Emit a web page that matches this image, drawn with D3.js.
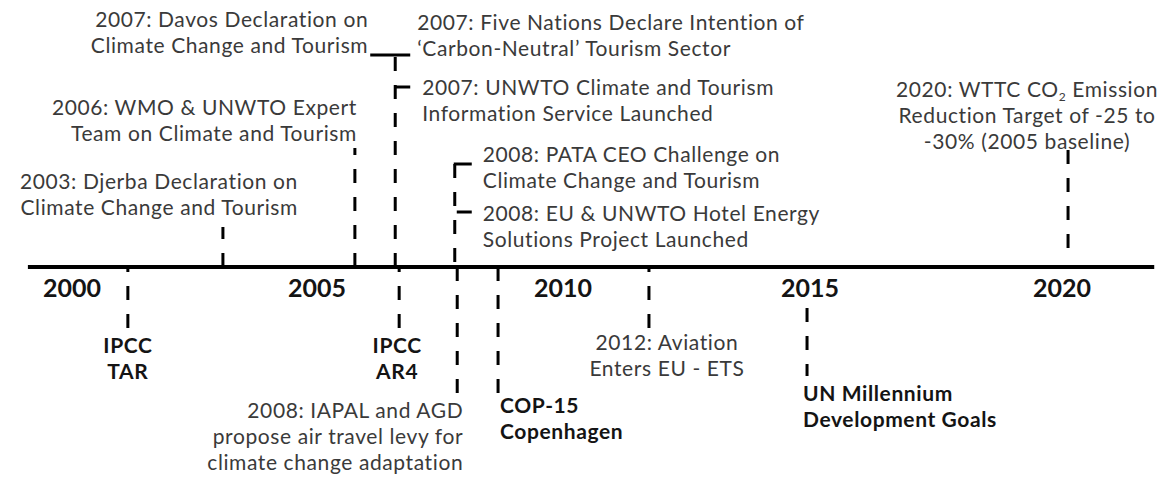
<!DOCTYPE html>
<meta charset="utf-8">
<style>
body { margin: 0; background: #fff; }
svg text { font-family: Lato, "Open Sans", sans-serif; }
.lbl { font-size: 21px; letter-spacing: 0.6px; fill: #3a3a3a; }
.lbl.bold { font-weight: bold; fill: #141414; }
.year { font-size: 25px; font-weight: bold; fill: #141414; }
.axis-line { stroke: #000; stroke-width: 4; }
.link { stroke: #000; stroke-width: 3; stroke-dasharray: 14,14; fill: none; }
.bar { stroke: #000; stroke-width: 3; }
</style>
<svg width="1168" height="479"></svg>
<script src="https://d3js.org/d3.v7.min.js"></script>
<script>

// year ticks under the axis
var tickYears = [2000, 2005, 2010, 2015, 2020];
var tickLabels = ["2000", "2005", "2010", "2015", "2020"];

// where each event sits on the time axis
var eventYears = [2001.14, 2003.08, 2005.77, 2006.59, 2006.59, 2006.59, 2006.67,
                  2007.8, 2007.8, 2007.85, 2008.68, 2011.74, 2014.94, 2020.12];

var eventText = [
  ["IPCC", "TAR"],
  ["2003: Djerba Declaration on", "Climate Change and Tourism"],
  ["2006: WMO & UNWTO Expert", "Team on Climate and Tourism"],
  ["2007: Davos Declaration on", "Climate Change and Tourism"],
  ["2007: Five Nations Declare Intention of", "\u2018Carbon-Neutral\u2019 Tourism Sector"],
  ["2007: UNWTO Climate and Tourism", "Information Service Launched"],
  ["IPCC", "AR4"],
  ["2008: PATA CEO Challenge on", "Climate Change and Tourism"],
  ["2008: EU & UNWTO Hotel Energy", "Solutions Project Launched"],
  ["2008: IAPAL and AGD", "propose air travel levy for", "climate change adaptation"],
  ["COP-15", "Copenhagen"],
  ["2012: Aviation", "Enters EU - ETS"],
  ["UN Millennium", "Development Goals"],
  ["2020: WTTC CO_2 Emission", "Reduction Target of -25 to", "-30% (2005 baseline)"]
];

// layout for each event: label offset / baseline, connector line ends, little hooks
var layout = [
  {dx: 0,   y: 353, anchor: "middle", bold: true, line: [328, 267]},
  {dx: 75,  y: 189, anchor: "end",    line: [267, 227]},
  {dx: 2,   y: 115, anchor: "end",    line: [267, 148]},
  {dx: -27, y: 27,  anchor: "end",    line: [267, 55], hook: [-25, 15, 55]},
  {dx: 22,  y: 30,  anchor: "start"},
  {dx: 27,  y: 95,  anchor: "start",  hook: [0, 15, 87]},
  {dx: -2,  y: 353, anchor: "middle", bold: true, line: [328, 267]},
  {dx: 28,  y: 162, anchor: "start",  line: [164, 267], hook: [-1, 17, 164]},
  {dx: 28,  y: 221, anchor: "start",  hook: [2, 17, 212]},
  {dx: 6,   y: 418, anchor: "end",    line: [393, 267]},
  {dx: 2,   y: 413, anchor: "start",  bold: true, line: [393, 267]},
  {dx: 18,  y: 350, anchor: "middle", line: [328, 267]},
  {dx: -4,  y: 401, anchor: "start",  bold: true, line: [308, 376]},
  {dx: -41, y: 97,  anchor: "middle", line: [150, 262]}
];

var lineHeight = 26;
var axisY = 267;

var svg = d3.select("svg");

// piecewise scale, the drawing isn't perfectly even
var x = d3.scaleLinear()
    .domain(tickYears)
    .range([72, 317, 563, 810, 1062]);

var events = eventYears.map(function(yr, i) {
  return {year: yr, text: eventText[i], lay: layout[i]};
});

// connectors first so the axis sits on top
var links = svg.append("g").attr("class", "links");

links.selectAll("path")
  .data(events.filter(function(d) { return d.lay.line; }))
  .enter().append("path")
    .attr("class", "link")
    .attr("d", function(d) {
      var px = x(d.year);
      return "M" + px + "," + d.lay.line[0] + "V" + d.lay.line[1];
    });

links.selectAll("line.bar")
  .data(events.filter(function(d) { return d.lay.hook; }))
  .enter().append("line")
    .attr("class", "bar")
    .attr("x1", function(d) { return x(d.year) + d.lay.hook[0]; })
    .attr("x2", function(d) { return x(d.year) + d.lay.hook[1]; })
    .attr("y1", function(d) { return d.lay.hook[2]; })
    .attr("y2", function(d) { return d.lay.hook[2]; });

svg.append("line")
    .attr("class", "axis-line")
    .attr("x1", x(1999.1))
    .attr("x2", x(2021.83))
    .attr("y1", axisY)
    .attr("y2", axisY);

svg.append("g").selectAll("text")
  .data(tickYears)
  .enter().append("text")
    .attr("class", "year")
    .attr("x", function(d) { return x(d); })
    .attr("y", 297)
    .attr("text-anchor", "middle")
    .text(function(d, i) { return tickLabels[i]; });

var labels = svg.append("g").selectAll("text")
  .data(events)
  .enter().append("text")
    .attr("class", function(d) { return d.lay.bold ? "lbl bold" : "lbl"; })
    .attr("text-anchor", function(d) { return d.lay.anchor; });

labels.each(function(d) {
  var t = d3.select(this);
  var px = x(d.year) + d.lay.dx;
  d.text.forEach(function(line, k) {
    var parts = line.split("_");
    t.append("tspan")
        .attr("x", px)
        .attr("y", d.lay.y + k * lineHeight)
        .text(parts[0]);
    if (parts.length > 1) {
      // subscript (CO2)
      t.append("tspan").attr("dy", 4).style("font-size", "12px").text(parts[1][0]);
      t.append("tspan").attr("dy", -4).text(parts[1].slice(1));
    }
  });
});

</script>
